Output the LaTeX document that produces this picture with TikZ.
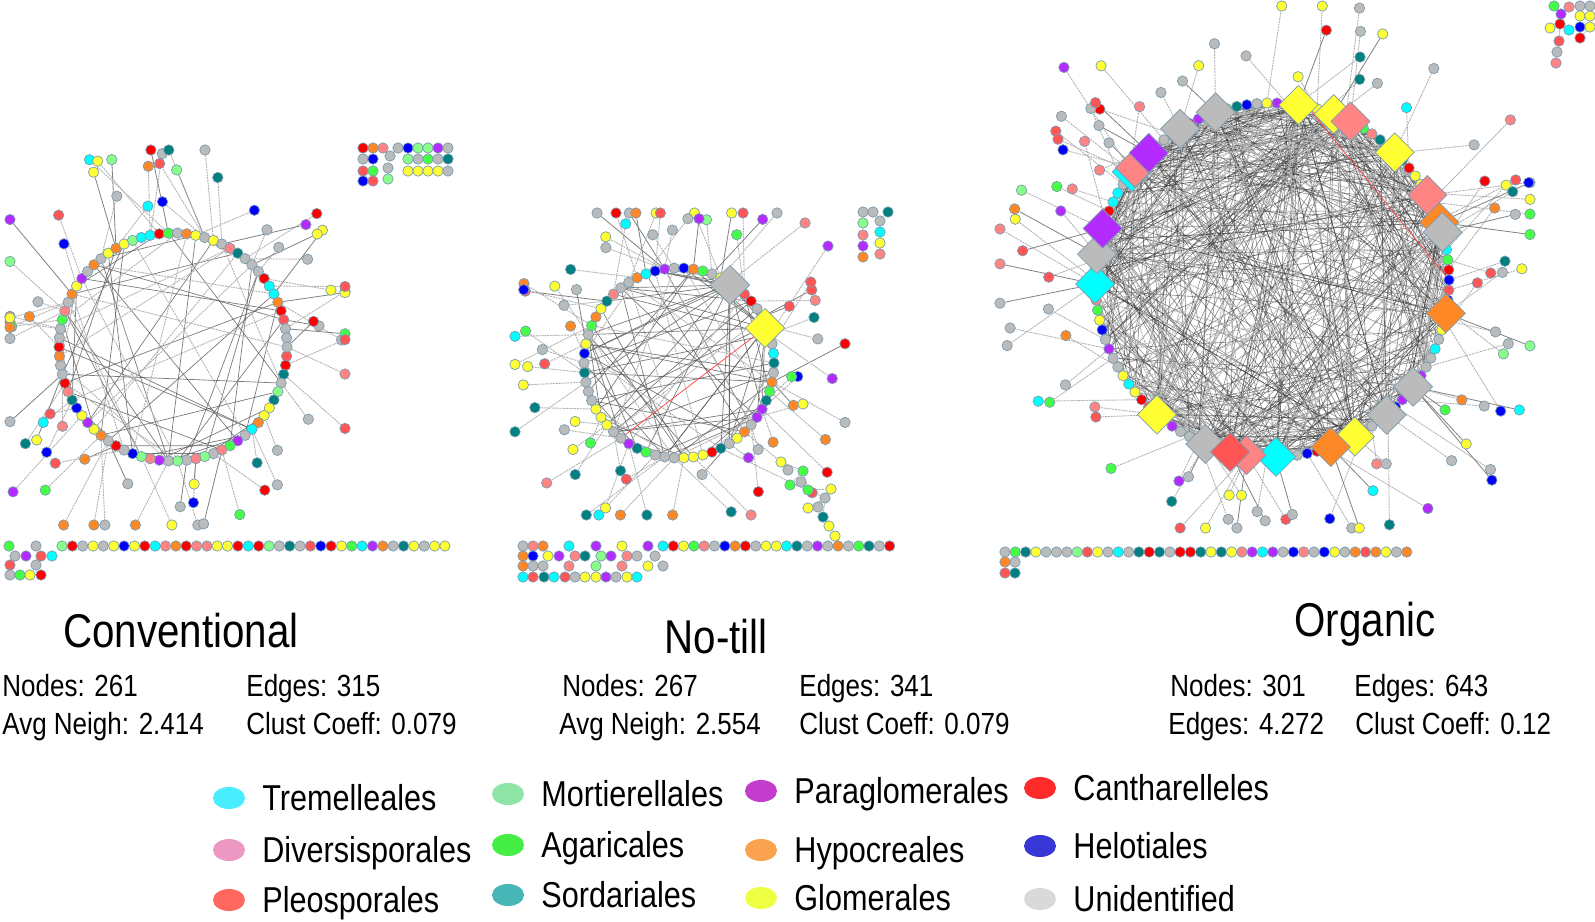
\documentclass[tikz,border=0pt]{standalone}
\usepackage{fontspec}
\newfontfamily\labfont[FakeStretch=0.85]{Liberation Sans}
\usepackage{tikz}
\usetikzlibrary{shapes.geometric, positioning}
\usepackage{xcolor}

\pgfdeclarelayer{edges}
\pgfsetlayers{edges,main}

% node colours (network)
\definecolor{nY}{HTML}{FFFF33}
\definecolor{nU}{HTML}{BBBBBB}
\definecolor{nK}{HTML}{FF8585}
\definecolor{nR}{HTML}{FF5555}
\definecolor{nB}{HTML}{0000FF}
\definecolor{nT}{HTML}{008080}
\definecolor{nC}{HTML}{00FFFF}
\definecolor{nO}{HTML}{FF8826}
\definecolor{nD}{HTML}{FF0000}
\definecolor{nG}{HTML}{44FF44}
\definecolor{nP}{HTML}{B42BFF}
\definecolor{nM}{HTML}{88FF88}
\definecolor{nEdge}{HTML}{7B9BAF}
% legend colours
\definecolor{lTre}{HTML}{48EEFF}
\definecolor{lDiv}{HTML}{EB98C3}
\definecolor{lPle}{HTML}{FF675F}
\definecolor{lMor}{HTML}{8EE4A6}
\definecolor{lAga}{HTML}{44EE44}
\definecolor{lSor}{HTML}{46B6B6}
\definecolor{lPar}{HTML}{C43CCB}
\definecolor{lHyp}{HTML}{FAA250}
\definecolor{lGlo}{HTML}{EEFF44}
\definecolor{lCan}{HTML}{FF2A2A}
\definecolor{lHel}{HTML}{3838D6}
\definecolor{lUni}{HTML}{D9D9D9}

% pick a node colour from an index
\newcommand\setpc[1]{\ifcase#1 \def\pc{nU}\or\def\pc{nU}\or\def\pc{nU}\or\def\pc{nU}\or
  \def\pc{nY}\or\def\pc{nY}\or\def\pc{nY}\or\def\pc{nK}\or\def\pc{nR}\or\def\pc{nB}\or
  \def\pc{nT}\or\def\pc{nC}\or\def\pc{nO}\or\def\pc{nD}\or\def\pc{nG}\or\def\pc{nP}\else\def\pc{nM}\fi}
\newcommand\pickpc{\pgfmathrandominteger{\kk}{0}{16}\setpc{\kk}}
% remember the parent and the line kind of a pendant node
\newcommand\keep[3]{\expandafter\xdef\csname #1\endcsname{#2}\expandafter\xdef\csname #1d\endcsname{#3}}
\newcommand\recall[1]{\edef\sa{\csname #1\endcsname}\edef\dk{\csname #1d\endcsname}}

\begin{document}
\begin{tikzpicture}[x=0.5pt, y=-0.5pt]
        \useasboundingbox (0,0) rectangle (1595,921);

        % Define styles
        \tikzstyle{nd} = [circle, draw=nEdge, line width=0.35pt, inner sep=0pt, minimum size=5.2pt]
        \tikzstyle{hub} = [rectangle, draw=nEdge, line width=0.35pt, inner sep=0pt, minimum size=13.8pt, rotate=45]
        \tikzstyle{chord} = [draw=black!65, line width=0.35pt, opacity=0.8]
        \tikzstyle{mesh} = [draw=black!75, line width=0.3pt, opacity=0.6]
        \tikzstyle{faint} = [draw=black!30, line width=0.45pt, dash pattern=on 1pt off 0.4pt]
        \tikzstyle{spoke} = [draw=black!50, line width=0.4pt]
        \tikzstyle{ttl} = [font=\labfont\fontsize{23.7}{28}\selectfont, anchor=base, inner sep=0pt]
        \tikzstyle{stat} = [font=\labfont\fontsize{15.3}{18}\selectfont, anchor=base west, inner sep=0pt]
        \tikzstyle{lgdot} = [ellipse, minimum width=16pt, minimum height=11pt, inner sep=0pt]
        \tikzstyle{lgtxt} = [font=\labfont\fontsize{18}{22}\selectfont, anchor=base west, inner sep=0pt]

        % ---------------- Conventional ----------------
        \pgfmathsetseed{7}
        \foreach \i in {1,...,78}{
            \pickpc
            \pgfmathsetmacro\qx{173 + 114*cos(\i/78*360)}
            \pgfmathsetmacro\qy{347 + 114*sin(\i/78*360)}
            \node [nd, fill=\pc] (a\i) at (\qx,\qy) {};
        }
        \foreach \j in {1,...,74}{
            \pgfmathrandominteger{\sa}{1}{78}
            \pgfmathsetmacro\ang{\sa/78*360 + rand*22}
            \pgfmathsetmacro\rr{114 + 22 + rnd*85}
            \pgfmathsetmacro\qx{min(max(173 + \rr*cos(\ang), 10), 345)}
            \pgfmathsetmacro\qy{min(max(347 + \rr*sin(\ang), 150), 525)}
            \pickpc
            \node [nd, fill=\pc] (ap\j) at (\qx,\qy) {};
            \pgfmathrandominteger{\dk}{0}{5}
            \keep{ap\j}{\sa}{\dk}
        }
        \begin{pgfonlayer}{edges}
        \foreach \j in {1,...,40}{
            \pgfmathrandominteger{\sa}{1}{78}\pgfmathrandominteger{\sb}{1}{78}
            \draw [chord] (a\sa) -- (a\sb);
        }
        \foreach \j in {1,...,22}{
            \pgfmathrandominteger{\sa}{1}{78}\pgfmathrandominteger{\sb}{1}{78}
            \draw [faint] (a\sa) -- (a\sb);
        }
        \foreach \j in {1,...,74}{
            \recall{ap\j}
            \ifnum\dk=0 \draw [spoke] (a\sa) -- (ap\j); \else \draw [faint] (a\sa) -- (ap\j); \fi
        }
        \end{pgfonlayer}
        % unconnected nodes
        \foreach \i in {0,...,37}{
            \pickpc
            \node [nd, fill=\pc] (ar\i) at ({62+10.35*\i},546) {};
        }
        \foreach \x/\y [count=\n] in {9/546,36/546,15/556,26/556,41/556,52/556,10/565,36/565,10/575,20/575,30/575,41/575}{
            \pickpc
            \node [nd, fill=\pc] (al\n) at (\x,\y) {};
        }
        \foreach \x/\y [count=\n] in {363/148,373/148,383/148,398/148,408/148,418/148,428/148,438/148,448/148,
                                      363/159,373/159,390/156,408/159,418/159,428/159,438/159,448/159,
                                      363/171,373/171,388/168,408/171,418/171,428/171,438/171,448/171,
                                      363/181,373/181,388/179}{
            \pickpc
            \node [nd, fill=\pc] (ag\n) at (\x,\y) {};
        }

        % ---------------- No-till ----------------
        \pgfmathsetseed{23}
        \foreach \i in {1,...,62}{
            \pickpc
            \pgfmathsetmacro\qx{679 + 95*cos(\i/62*360)}
            \pgfmathsetmacro\qy{363 + 95*sin(\i/62*360)}
            \node [nd, fill=\pc] (b\i) at (\qx,\qy) {};
        }
        \node [hub, fill=nU] (bH1) at (730,285) {};
        \node [hub, fill=nY] (bH2) at (765,328) {};
        \foreach \j in {1,...,76}{
            \pgfmathrandominteger{\sa}{1}{62}
            \pgfmathsetmacro\ang{\sa/62*360 + rand*24}
            \pgfmathsetmacro\rr{95 + 18 + rnd*85}
            \pgfmathsetmacro\qx{min(max(679 + \rr*cos(\ang), 515), 845)}
            \pgfmathsetmacro\qy{min(max(363 + \rr*sin(\ang), 213), 515)}
            \pickpc
            \node [nd, fill=\pc] (bp\j) at (\qx,\qy) {};
            \pgfmathrandominteger{\dk}{0}{4}
            \keep{bp\j}{\sa}{\dk}
        }
        % chain towards the lower right
        \foreach \x/\y [count=\n] in {781/462,803/471,808/490,825/498,823/517,829/526,835/536}{
            \pickpc
            \node [nd, fill=\pc] (bc\n) at (\x,\y) {};
        }
        \foreach \x/\y [count=\n] in {788/470,801/482,790/485,831/489,818/507,808/508}{
            \pickpc
            \node [nd, fill=\pc] (bs\n) at (\x,\y) {};
        }
        \begin{pgfonlayer}{edges}
        \foreach \j in {1,...,48}{
            \pgfmathrandominteger{\sa}{1}{62}\pgfmathrandominteger{\sb}{1}{62}
            \draw [chord] (b\sa) -- (b\sb);
        }
        \foreach \j in {1,...,14}{
            \pgfmathrandominteger{\sa}{1}{62}\pgfmathrandominteger{\sb}{1}{62}
            \draw [chord] (bH1) -- (b\sa);
            \draw [chord] (bH2) -- (b\sb);
        }
        \foreach \j in {1,...,18}{
            \pgfmathrandominteger{\sa}{1}{62}\pgfmathrandominteger{\sb}{1}{62}
            \draw [faint] (b\sa) -- (b\sb);
        }
        \draw [draw=red!75, line width=0.35pt] (bH2) -- (b22);
        \foreach \j in {1,...,76}{
            \recall{bp\j}
            \ifnum\dk=0 \draw [spoke] (b\sa) -- (bp\j); \else \draw [faint] (b\sa) -- (bp\j); \fi
        }
        \foreach \s/\t in {1/1,2/2,3/2,4/3,5/4,6/4}{
            \draw [faint] (bc\t) -- (bs\s);
        }
        \draw [faint] (b8) -- (bc1) -- (bc2) -- (bc3) -- (bc4) -- (bc5) -- (bc6) -- (bc7);
        \end{pgfonlayer}
        % unconnected nodes
        \foreach \i in {0,...,22}{
            \pickpc
            \node [nd, fill=\pc] (br\i) at ({663+10.3*\i},546) {};
        }
        \foreach \x/\y [count=\n] in {523/546,533/546,543/546,569/546,596/546,622/546,648/546,
                                      523/556,533/556,548/556,559/556,575/556,585/556,601/556,611/556,627/556,637/556,655/556,
                                      523/566,533/566,543/566,569/566,596/566,622/566,648/566,663/566,
                                      523/577,533/577,544/577,554/577,565/577,575/577,585/577,596/577,606/577,616/577,627/577,637/577}{
            \pickpc
            \node [nd, fill=\pc] (bl\n) at (\x,\y) {};
        }
        \foreach \x/\y [count=\n] in {863/212,873/212,888/212,863/223,880/221,880/232,863/235,880/243,863/246,880/254,863/257}{
            \pickpc
            \node [nd, fill=\pc] (bg\n) at (\x,\y) {};
        }

        % ---------------- Organic ----------------
        \pgfmathsetseed{41}
        \def\hubang{{-81.4,-69.6,-63.7,-46.1,-28.7,-19,-15.7,10.8,37.1,49.6,62.1,70.6,88.7,98.3,112.1,103.7,130.5,178.7,188.4,196.9,217.6,219.3,225.9,238.7,251.4}}
        \foreach \i in {1,...,110}{
            \pickpc
            \pgfmathsetmacro\qx{1272 + 177*cos(\i/110*360)}
            \pgfmathsetmacro\qy{280 + 177*sin(\i/110*360)}
            \node [nd, fill=\pc] (c\i) at (\qx,\qy) {};
        }
        \foreach \a/\col [count=\n] in {-81.4/nY,-69.6/nY,-63.7/nK,-46.1/nY,-28.7/nK,-19/nO,-15.7/nU,10.8/nO,37.1/nU,49.6/nU,
                                        62.1/nY,70.6/nO,88.7/nC,98.3/nK,112.1/nU,103.7/nR,130.5/nY,178.7/nC,188.4/nU,196.9/nP,
                                        217.6/nC,219.3/nK,225.9/nP,238.7/nU,251.4/nU}{
            \pgfmathsetmacro\qx{1272 + 177*cos(\a)}
            \pgfmathsetmacro\qy{280 + 177*sin(\a)}
            \node [hub, fill=\col] (h\n) at (\qx,\qy) {};
        }
        \foreach \j in {1,...,56}{
            \pgfmathrandominteger{\sa}{1}{110}
            \pgfmathsetmacro\ang{\sa/110*360 + rand*18}
            \pgfmathsetmacro\rr{177 + 25 + rnd*90}
            \pgfmathsetmacro\qx{min(max(1272 + \rr*cos(\ang), 1000), 1530)}
            \pgfmathsetmacro\qy{min(max(280 + \rr*sin(\ang), 6), 528)}
            \pickpc
            \node [nd, fill=\pc] (cp\j) at (\qx,\qy) {};
            \keep{cp\j}{\sa}{1}
        }
        \foreach \j in {1,...,48}{
            \pgfmathrandominteger{\hh}{1}{25}
            \pgfmathsetmacro\ang{\hubang[\hh-1] + rand*14}
            \pgfmathsetmacro\rr{177 + 35 + rnd*90}
            \pgfmathsetmacro\qx{min(max(1272 + \rr*cos(\ang), 1000), 1530)}
            \pgfmathsetmacro\qy{min(max(280 + \rr*sin(\ang), 6), 528)}
            \pickpc
            \node [nd, fill=\pc] (hp\j) at (\qx,\qy) {};
            \pgfmathrandominteger{\dk}{0}{2}
            \keep{hp\j}{\hh}{\dk}
        }
        \begin{pgfonlayer}{edges}
        \foreach \j in {1,...,320}{
            \pgfmathrandominteger{\hh}{1}{25}\pgfmathrandominteger{\sb}{1}{110}
            \draw [mesh] (h\hh) -- (c\sb);
        }
        \foreach \j in {1,...,80}{
            \pgfmathrandominteger{\hh}{1}{25}\pgfmathrandominteger{\sb}{1}{25}
            \draw [mesh] (h\hh) -- (h\sb);
        }
        \foreach \j in {1,...,110}{
            \pgfmathrandominteger{\sa}{1}{110}\pgfmathrandominteger{\sb}{1}{110}
            \draw [mesh] (c\sa) -- (c\sb);
        }
        \foreach \j in {1,...,110}{
            \pgfmathrandominteger{\sa}{1}{110}\pgfmathrandominteger{\sb}{1}{110}
            \draw [faint] (c\sa) -- (c\sb);
        }
        \draw [draw=red!75, line width=0.35pt] (c86) -- (c110);
        \foreach \j in {1,...,56}{
            \recall{cp\j}
            \draw [faint] (c\sa) -- (cp\j);
        }
        \foreach \j in {1,...,48}{
            \recall{hp\j}
            \ifnum\dk=0 \draw [spoke] (h\sa) -- (hp\j); \else \draw [faint] (h\sa) -- (hp\j); \fi
        }
        \end{pgfonlayer}
        % unconnected nodes
        \foreach \i in {0,...,39}{
            \pickpc
            \node [nd, fill=\pc] (cr\i) at ({1005+10.3*\i},552) {};
        }
        \foreach \x/\y [count=\n] in {1005/562,1015/562,1005/573,1015/573}{
            \pickpc
            \node [nd, fill=\pc] (cl\n) at (\x,\y) {};
        }
        \foreach \x/\y [count=\n] in {1554/6,1569/7,1580/6,1590/6,1561/14,1580/16,1590/16,1550/28,1560/24,1569/30,1580/27,1590/27,1580/38,1559/41,1557/52,1556/63}{
            \pickpc
            \node [nd, fill=\pc] (cg\n) at (\x,\y) {};
        }
        \begin{pgfonlayer}{edges}
        \draw [faint] (cg5) -- (cg9) -- (cg14) -- (cg15) -- (cg16);
        \draw [faint] (cg7) -- (cg12) -- (cg13);
        \end{pgfonlayer}

        % ---------------- Titles and statistics ----------------
        \node [ttl] (tConv) at (181,647) {Conventional};
        \node [ttl] (tNo) at (716,653) {No-till};
        \node [ttl] (tOrg) at (1365,636) {Organic};

        \node [stat] (sA1) at (2,696) {Nodes: 261};
        \node [stat] (sA2) at (246,696) {Edges: 315};
        \node [stat] (sA3) at (2,734) {Avg Neigh: 2.414};
        \node [stat] (sA4) at (246,734) {Clust Coeff: 0.079};
        \node [stat] (sB1) at (562,696) {Nodes: 267};
        \node [stat] (sB2) at (799,696) {Edges: 341};
        \node [stat] (sB3) at (559,734) {Avg Neigh: 2.554};
        \node [stat] (sB4) at (799,734) {Clust Coeff: 0.079};
        \node [stat] (sC1) at (1170,696) {Nodes: 301};
        \node [stat] (sC2) at (1354,696) {Edges: 643};
        \node [stat] (sC3) at (1168,734) {Edges: 4.272};
        \node [stat] (sC4) at (1355,734) {Clust Coeff: 0.12};

        % ---------------- Legend ----------------
        \foreach \x/\y/\col/\name [count=\n] in {229/798/lTre/Tremelleales, 229/850/lDiv/Diversisporales, 229/900/lPle/Pleosporales,
                                                  508/794/lMor/Mortierellales, 508/845/lAga/Agaricales, 508/895/lSor/Sordariales,
                                                  761/791/lPar/Paraglomerales, 761/850/lHyp/Hypocreales, 761/898/lGlo/Glomerales,
                                                  1040/788/lCan/Cantharelleles, 1040/846/lHel/Helotiales, 1040/899/lUni/Unidentified}{
            \node [lgdot, fill=\col] (ld\n) at (\x,\y) {};
            \node [lgtxt] (lt\n) at ({\x+33},{\y+12}) {\name};
        }

\end{tikzpicture}
\end{document}
